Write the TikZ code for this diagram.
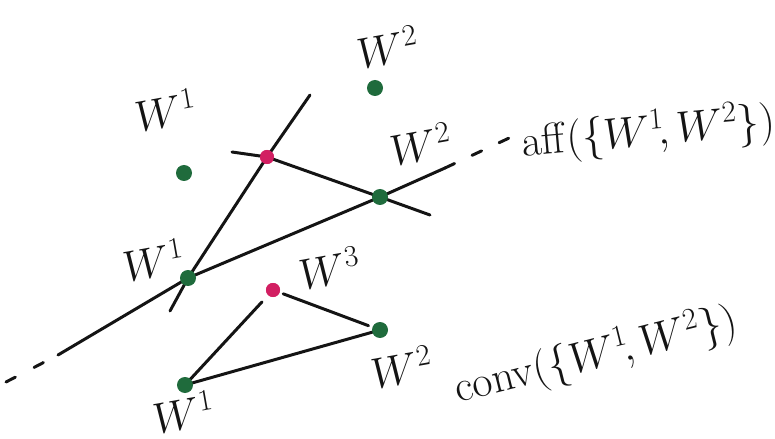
\documentclass[tikz,border=0pt]{standalone}
\usepackage{tikz}
\usepackage{xcolor}
\usetikzlibrary{positioning,calc}
\definecolor{Ink}{HTML}{141414}
\definecolor{Leaf}{HTML}{1F6B3C}
\definecolor{Berry}{HTML}{D21F62}

\tikzset{
  pt/.style={circle,fill=Leaf,inner sep=0pt,minimum size=8.5pt},
  ptx/.style={circle,fill=Berry,inner sep=0pt,minimum size=8pt},
  stroke/.style={Ink,line width=1.7pt,line cap=round,line join=round},
  lbl/.style={font=\fontsize{23}{27}\selectfont,Ink}
}

\begin{document}
\begin{tikzpicture}[x=0.02cm,y=-0.02cm]
  \useasboundingbox (0,0) rectangle (775,439);
  % points
  \node[pt] (w2a) at (375,88) {};
  \node[pt] (w1a) at (184,173) {};
  \node[ptx] (w3a) at (267,157) {};
  \node[pt] (w2b) at (380,197) {};
  \node[pt] (w1b) at (188,278) {};
  \node[ptx] (w3b) at (273,290) {};
  \node[pt] (w2c) at (380,330) {};
  \node[pt] (w1c) at (185,385) {};
  % free ends
  \coordinate (affL) at (58,355);
  \coordinate (affR) at (445,168);
  \coordinate (affRR) at (522,132);
  \coordinate (affLL) at (6,382);
  \coordinate (upT) at (310,95);
  \coordinate (upB) at (170,311);
  \coordinate (crL) at (232,152);
  \coordinate (crR) at (430,215);
  % lines
  \draw[stroke] (affL) -- (w1b.center) -- (w2b.center) -- (affR);
  \draw[stroke,dash pattern=on 6pt off 11pt] (affR) -- (affRR);
  \draw[stroke,dash pattern=on 6pt off 12pt] (affLL) -- (affL);
  \draw[stroke] (upT) -- (w3a.center) -- (w1b.center) -- (upB);
  \draw[stroke] (crL) -- (w3a.center) -- (w2b.center) -- (crR);
  \draw[stroke] (w1c.center) -- (w2c.center);
  \draw[stroke,shorten >=5pt] (w1c.center) -- (w3b);
  \draw[stroke,shorten <=2pt,shorten >=7pt] (w3b) -- (w2c.center);
  % redraw points on top
  \foreach \n in {w2a,w1a,w2b,w1b,w2c,w1c}{
    \fill[Leaf] (\n) circle (8);
  }
  \foreach \n in {w3a,w3b}{
    \fill[Berry] (\n) circle (7);
  }
  % labels
  \node[lbl,rotate=10] (lw2a) at (388,47) {$W^2$};
  \node[lbl,rotate=10] (lw1a) at (166,110) {$W^1$};
  \node[lbl,rotate=10] (lw2b) at (421,144) {$W^2$};
  \node[lbl,rotate=10] (lw1b) at (154,260) {$W^1$};
  \node[lbl,rotate=10] (lw3b) at (330,268) {$W^3$};
  \node[lbl,rotate=10] (lw2c) at (402,367) {$W^2$};
  \node[lbl,rotate=10] (lw1c) at (184,412) {$W^1$};
  \node[lbl,rotate=5] (aff) at (648,133) {$\mathrm{aff}(\{W^1\!,W^2\})$};
  \node[lbl,rotate=14] (conv) at (596,356) {$\mathrm{conv}(\{W^1\!,W^2\})$};
\end{tikzpicture}
\end{document}
